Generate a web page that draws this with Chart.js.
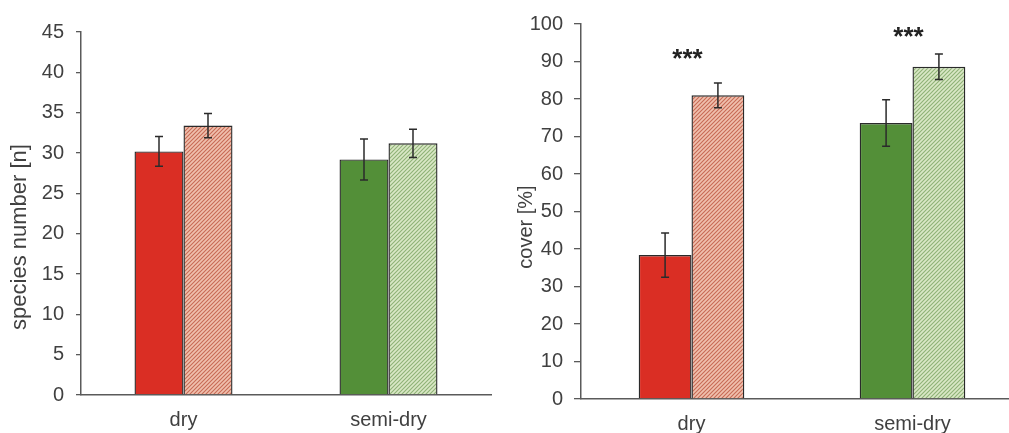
<!DOCTYPE html>
<html><head><meta charset="utf-8">
<script src="https://cdn.jsdelivr.net/npm/chart.js@4.4.1/dist/chart.umd.min.js"></script>
<style>
html,body{margin:0;padding:0;background:#fff;overflow:hidden;width:1009px;height:433px;position:relative}
#c1{position:absolute;left:0;top:0}
#c2{position:absolute;left:500px;top:0}
</style></head><body>
<canvas id="c1" width="500" height="433"></canvas>
<canvas id="c2" width="523" height="433"></canvas>
<script>
// ---- data ----
const categories = ['dry', 'semi-dry'];
const speciesSolid = [30.2, 29.2];
const speciesSolidErr = [1.85, 2.55];
const speciesHatched = [33.4, 31.2];
const speciesHatchedErr = [1.5, 1.75];
const speciesTicks = [0, 45, 5]; // min, max, step
const coverSolid = [38.4, 73.6];
const coverSolidErr = [5.9, 6.2];
const coverHatched = [81.0, 88.6];
const coverHatchedErr = [3.3, 3.4];
const coverTicks = [0, 100, 10];
const coverSig = ['***', '***'];
const coverSigAt = [92, 98];

// ---- styles ----
const FONT = '"Liberation Sans", Arial, sans-serif';
const TXT = '#404040';
const AXIS = '#5a5a5a';
function hatch(bg, fg) {
  const s = 4, c = document.createElement('canvas');
  c.width = s; c.height = s;
  const g = c.getContext('2d');
  g.fillStyle = bg; g.fillRect(0, 0, s, s);
  g.strokeStyle = fg; g.lineWidth = 1.1;
  g.beginPath();
  g.moveTo(-1, s + 1); g.lineTo(s + 1, -1);
  g.moveTo(-1, 1); g.lineTo(1, -1);
  g.moveTo(s - 1, s + 1); g.lineTo(s + 1, s - 1);
  g.stroke();
  return g.createPattern(c, 'repeat');
}
const RED = '#da2e24', GREEN = '#538f38';
const PINK = hatch('#f0c0ae', '#c76a55');
const LGREEN = hatch('#dae8c6', '#8fb276');

const errPlugin = {
  id: 'errbars',
  afterDatasetsDraw(chart) {
    const ctx = chart.ctx, y = chart.scales.y;
    ctx.save();
    ctx.strokeStyle = '#2b2b2b'; ctx.lineWidth = 1.5;
    chart.data.datasets.forEach((ds, i) => {
      chart.getDatasetMeta(i).data.forEach((bar, j) => {
        const v = ds.data[j], e = ds.errors[j];
        const t = y.getPixelForValue(v + e), b = y.getPixelForValue(v - e), x = bar.x;
        ctx.beginPath();
        ctx.moveTo(x, t); ctx.lineTo(x, b);
        ctx.moveTo(x - 4, t); ctx.lineTo(x + 4, t);
        ctx.moveTo(x - 4, b); ctx.lineTo(x + 4, b);
        ctx.stroke();
      });
    });
    ctx.restore();
  }
};
const sigPlugin = {
  id: 'sig',
  afterDatasetsDraw(chart, args, opts) {
    if (!opts.labels) return;
    const ctx = chart.ctx, x = chart.scales.x, y = chart.scales.y;
    ctx.save();
    ctx.fillStyle = '#222'; ctx.font = 'bold 26px ' + FONT;
    ctx.textAlign = 'center'; ctx.textBaseline = 'middle';
    opts.labels.forEach((l, i) => {
      ctx.fillText(l, x.getPixelForValue(i) - 4, y.getPixelForValue(opts.at[i]) + 6);
    });
    ctx.restore();
  }
};
const ytitlePlugin = {
  id: 'ytitle',
  afterDraw(chart, args, opts) {
    const ctx = chart.ctx;
    ctx.save();
    ctx.fillStyle = TXT; ctx.font = opts.size + 'px ' + FONT;
    ctx.textAlign = 'center'; ctx.textBaseline = 'middle';
    ctx.translate(opts.x, opts.y); ctx.rotate(-Math.PI / 2);
    ctx.fillText(opts.text, 0, 0);
    ctx.restore();
  }
};

function makeChart(id, solid, solidErr, hatched, hatchedErr, ticks, pad, xh, tickLen, tickPad, title, sig) {
  return new Chart(document.getElementById(id), {
    type: 'bar',
    data: {
      labels: categories,
      datasets: [
        { data: solid, errors: solidErr, backgroundColor: [RED, GREEN], borderColor: '#2a2a2a', borderWidth: 1.4 },
        { data: hatched, errors: hatchedErr, backgroundColor: [PINK, LGREEN], borderColor: '#2a2a2a', borderWidth: 1.4 }
      ]
    },
    options: {
      responsive: false, animation: false,
      layout: { padding: pad },
      datasets: { bar: { barPercentage: 1, categoryPercentage: 0.478, borderSkipped: 'bottom' } },
      plugins: {
        legend: { display: false }, tooltip: { enabled: false },
        ytitle: title, sig: sig || {}
      },
      scales: {
        x: {
          grid: { display: true, drawOnChartArea: false, drawTicks: false },
          border: { display: true, color: AXIS, width: 1.5 },
          ticks: { color: TXT, font: { family: FONT, size: 20 }, padding: 13 },
          afterFit: s => { s.height = xh; }
        },
        y: {
          min: ticks[0], max: ticks[1],
          grid: { display: true, drawOnChartArea: false, drawTicks: true, tickLength: tickLen, color: AXIS, lineWidth: 1.3 },
          border: { display: true, color: AXIS, width: 1.5 },
          ticks: { stepSize: ticks[2], color: TXT, font: { family: FONT, size: 20 }, padding: tickPad },
          afterFit: s => { s.width = 81; }
        }
      }
    },
    plugins: [errPlugin, sigPlugin, ytitlePlugin]
  });
}

makeChart('c1', speciesSolid, speciesSolidErr, speciesHatched, speciesHatchedErr, speciesTicks,
  { left: 0, right: 9, top: 32, bottom: 0 }, 38, 5, 12,
  { text: 'species number [n]', x: 20, y: 237, size: 22 });
makeChart('c2', coverSolid, coverSolidErr, coverHatched, coverHatchedErr, coverTicks,
  { left: 0, right: 0, top: 24, bottom: 0 }, 34, 7, 11,
  { text: 'cover [%]', x: 26, y: 227, size: 20 },
  { labels: coverSig, at: coverSigAt });
</script>
</body></html>
